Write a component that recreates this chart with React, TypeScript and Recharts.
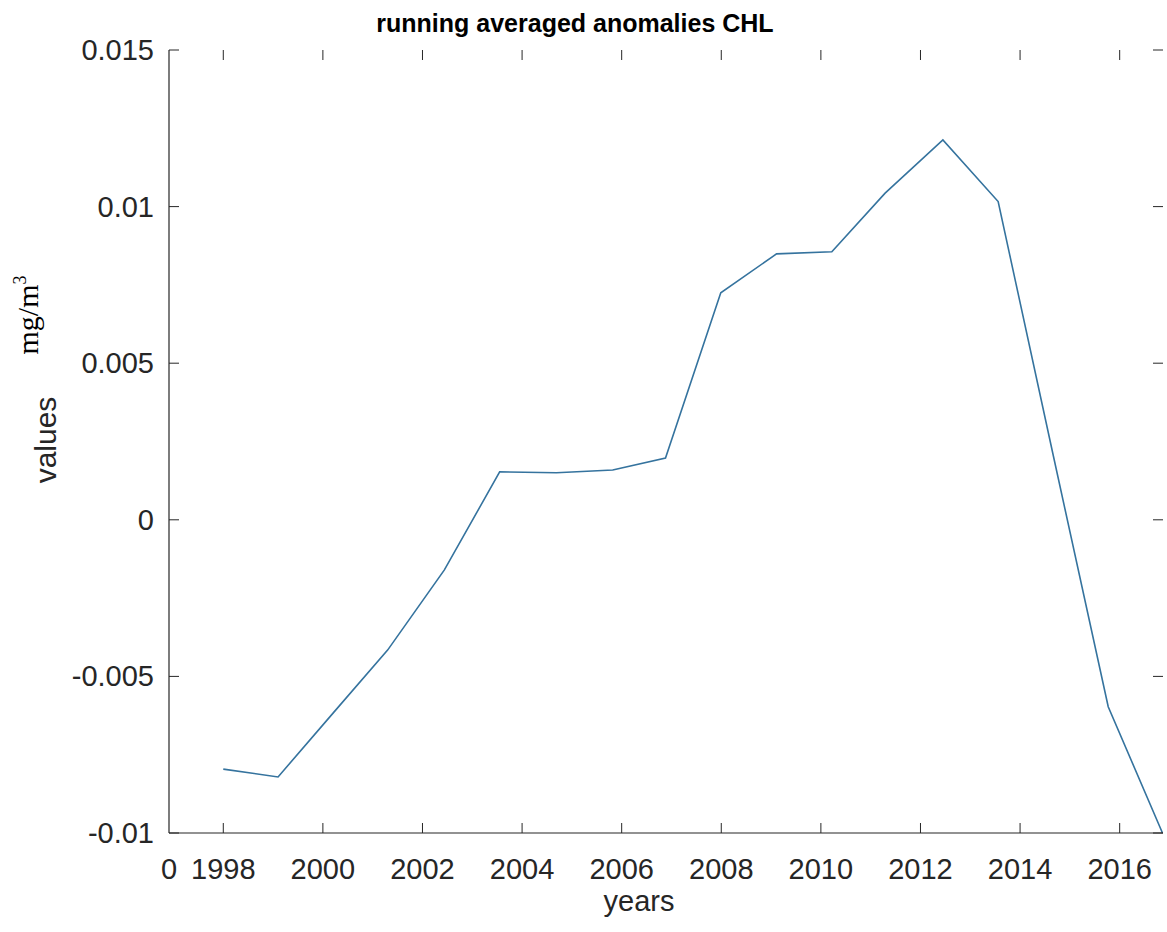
import { Line, LineChart, XAxis, YAxis } from "recharts";

const years = [
  1998.0, 1999.1, 2000.2, 2001.3, 2002.44, 2003.55, 2004.69, 2005.82, 2006.88,
  2007.99, 2009.11, 2010.22, 2011.29, 2012.45, 2013.56, 2014.66, 2015.77, 2016.86,
];
const anomalies = [
  -0.00796, -0.00821, -0.00618, -0.00416, -0.0016, 0.00153, 0.0015, 0.00159, 0.00197,
  0.00725, 0.00849, 0.00856, 0.01043, 0.01213, 0.01016, 0.0021, -0.00597, -0.01,
];
const xTicks = [1996.91, 1998, 2000, 2002, 2004, 2006, 2008, 2010, 2012, 2014, 2016];
const xTickLabels = ["0", "1998", "2000", "2002", "2004", "2006", "2008", "2010", "2012", "2014", "2016"];
const yTicks = [-0.01, -0.005, 0, 0.005, 0.01, 0.015];
const yTickLabels = ["-0.01", "-0.005", "0", "0.005", "0.01", "0.015"];

const data = years.map((year, i) => ({ year, value: anomalies[i] }));

const X_DOMAIN: [number, number] = [1996.91, 2016.87];
const Y_DOMAIN: [number, number] = [-0.01, 0.015];

const W = 1167;
const H = 932;
const PLOT_LEFT = 169;
const PLOT_TOP = 50;
const PLOT_RIGHT = 1163;
const PLOT_BOTTOM = 833;
const TICK_LEN = 10;

const AXIS = "#262626";
const SANS = "'Liberation Sans', Arial, sans-serif";
const SERIF = "'Liberation Serif', 'Times New Roman', serif";

function XTick(props: any) {
  const { x, index } = props;
  return (
    <g>
      {index > 0 && (
        <>
          <line x1={x} x2={x} y1={PLOT_BOTTOM} y2={PLOT_BOTTOM - TICK_LEN} stroke={AXIS} />
          <line x1={x} x2={x} y1={PLOT_TOP} y2={PLOT_TOP + TICK_LEN} stroke={AXIS} />
        </>
      )}
      <text x={x} y={879} textAnchor="middle" fill={AXIS} fontSize={29} fontFamily={SANS}>
        {xTickLabels[index]}
      </text>
    </g>
  );
}

function YTick(props: any) {
  const { y, index } = props;
  return (
    <g>
      <line x1={PLOT_LEFT} x2={PLOT_LEFT + TICK_LEN} y1={y} y2={y} stroke={AXIS} />
      <line x1={PLOT_RIGHT} x2={PLOT_RIGHT - TICK_LEN} y1={y} y2={y} stroke={AXIS} />
      <text x={154} y={y + 10} textAnchor="end" fill={AXIS} fontSize={29} fontFamily={SANS}>
        {yTickLabels[index]}
      </text>
    </g>
  );
}

function YLabel() {
  return (
    <g>
      <text
        transform="translate(56, 440) rotate(-90)"
        textAnchor="middle"
        fill={AXIS}
        fontSize={30}
        fontFamily={SANS}
      >
        values
      </text>
      <text
        transform="translate(38, 315) rotate(-90)"
        textAnchor="middle"
        fill="#000"
        fontSize={30}
        fontFamily={SERIF}
      >
        mg/m
        <tspan dy={-12} fontSize={18}>
          3
        </tspan>
      </text>
    </g>
  );
}

function XLabel() {
  return (
    <text x={639} y={911} textAnchor="middle" fill={AXIS} fontSize={29} fontFamily={SANS}>
      years
    </text>
  );
}

export default function App() {
  return (
    <div style={{ position: "absolute", left: 0, top: 0, width: W, height: H, background: "#fff" }}>
      <div
        style={{
          position: "absolute",
          left: 0,
          top: 8,
          width: 1150,
          textAlign: "center",
          fontFamily: SANS,
          fontWeight: "bold",
          fontSize: 25,
          color: "#000",
          lineHeight: "30px",
        }}
      >
        running averaged anomalies CHL
      </div>
      <LineChart
        width={W}
        height={H}
        data={data}
        margin={{ top: PLOT_TOP, right: W - PLOT_RIGHT, bottom: 0, left: 0 }}
      >
        <XAxis
          dataKey="year"
          type="number"
          domain={X_DOMAIN}
          ticks={xTicks}
          interval={0}
          allowDataOverflow
          height={H - PLOT_BOTTOM}
          tick={<XTick />}
          tickLine={false}
          axisLine={{ stroke: AXIS, strokeWidth: 1.2 }}
          label={<XLabel />}
        />
        <XAxis
          xAxisId="top"
          orientation="top"
          type="number"
          domain={X_DOMAIN}
          height={0}
          tick={false}
          tickLine={false}
          axisLine={{ stroke: AXIS, strokeWidth: 1.2 }}
        />
        <YAxis
          type="number"
          domain={Y_DOMAIN}
          ticks={yTicks}
          interval={0}
          allowDataOverflow
          width={PLOT_LEFT}
          tick={<YTick />}
          tickLine={false}
          axisLine={{ stroke: AXIS, strokeWidth: 1.2 }}
          label={<YLabel />}
        />
        <YAxis
          yAxisId="right"
          orientation="right"
          type="number"
          domain={Y_DOMAIN}
          width={0}
          tick={false}
          tickLine={false}
          axisLine={{ stroke: AXIS, strokeWidth: 1.2 }}
        />
        <Line
          type="linear"
          dataKey="value"
          stroke="#35739e"
          strokeWidth={1.6}
          dot={false}
          isAnimationActive={false}
        />
      </LineChart>
    </div>
  );
}
